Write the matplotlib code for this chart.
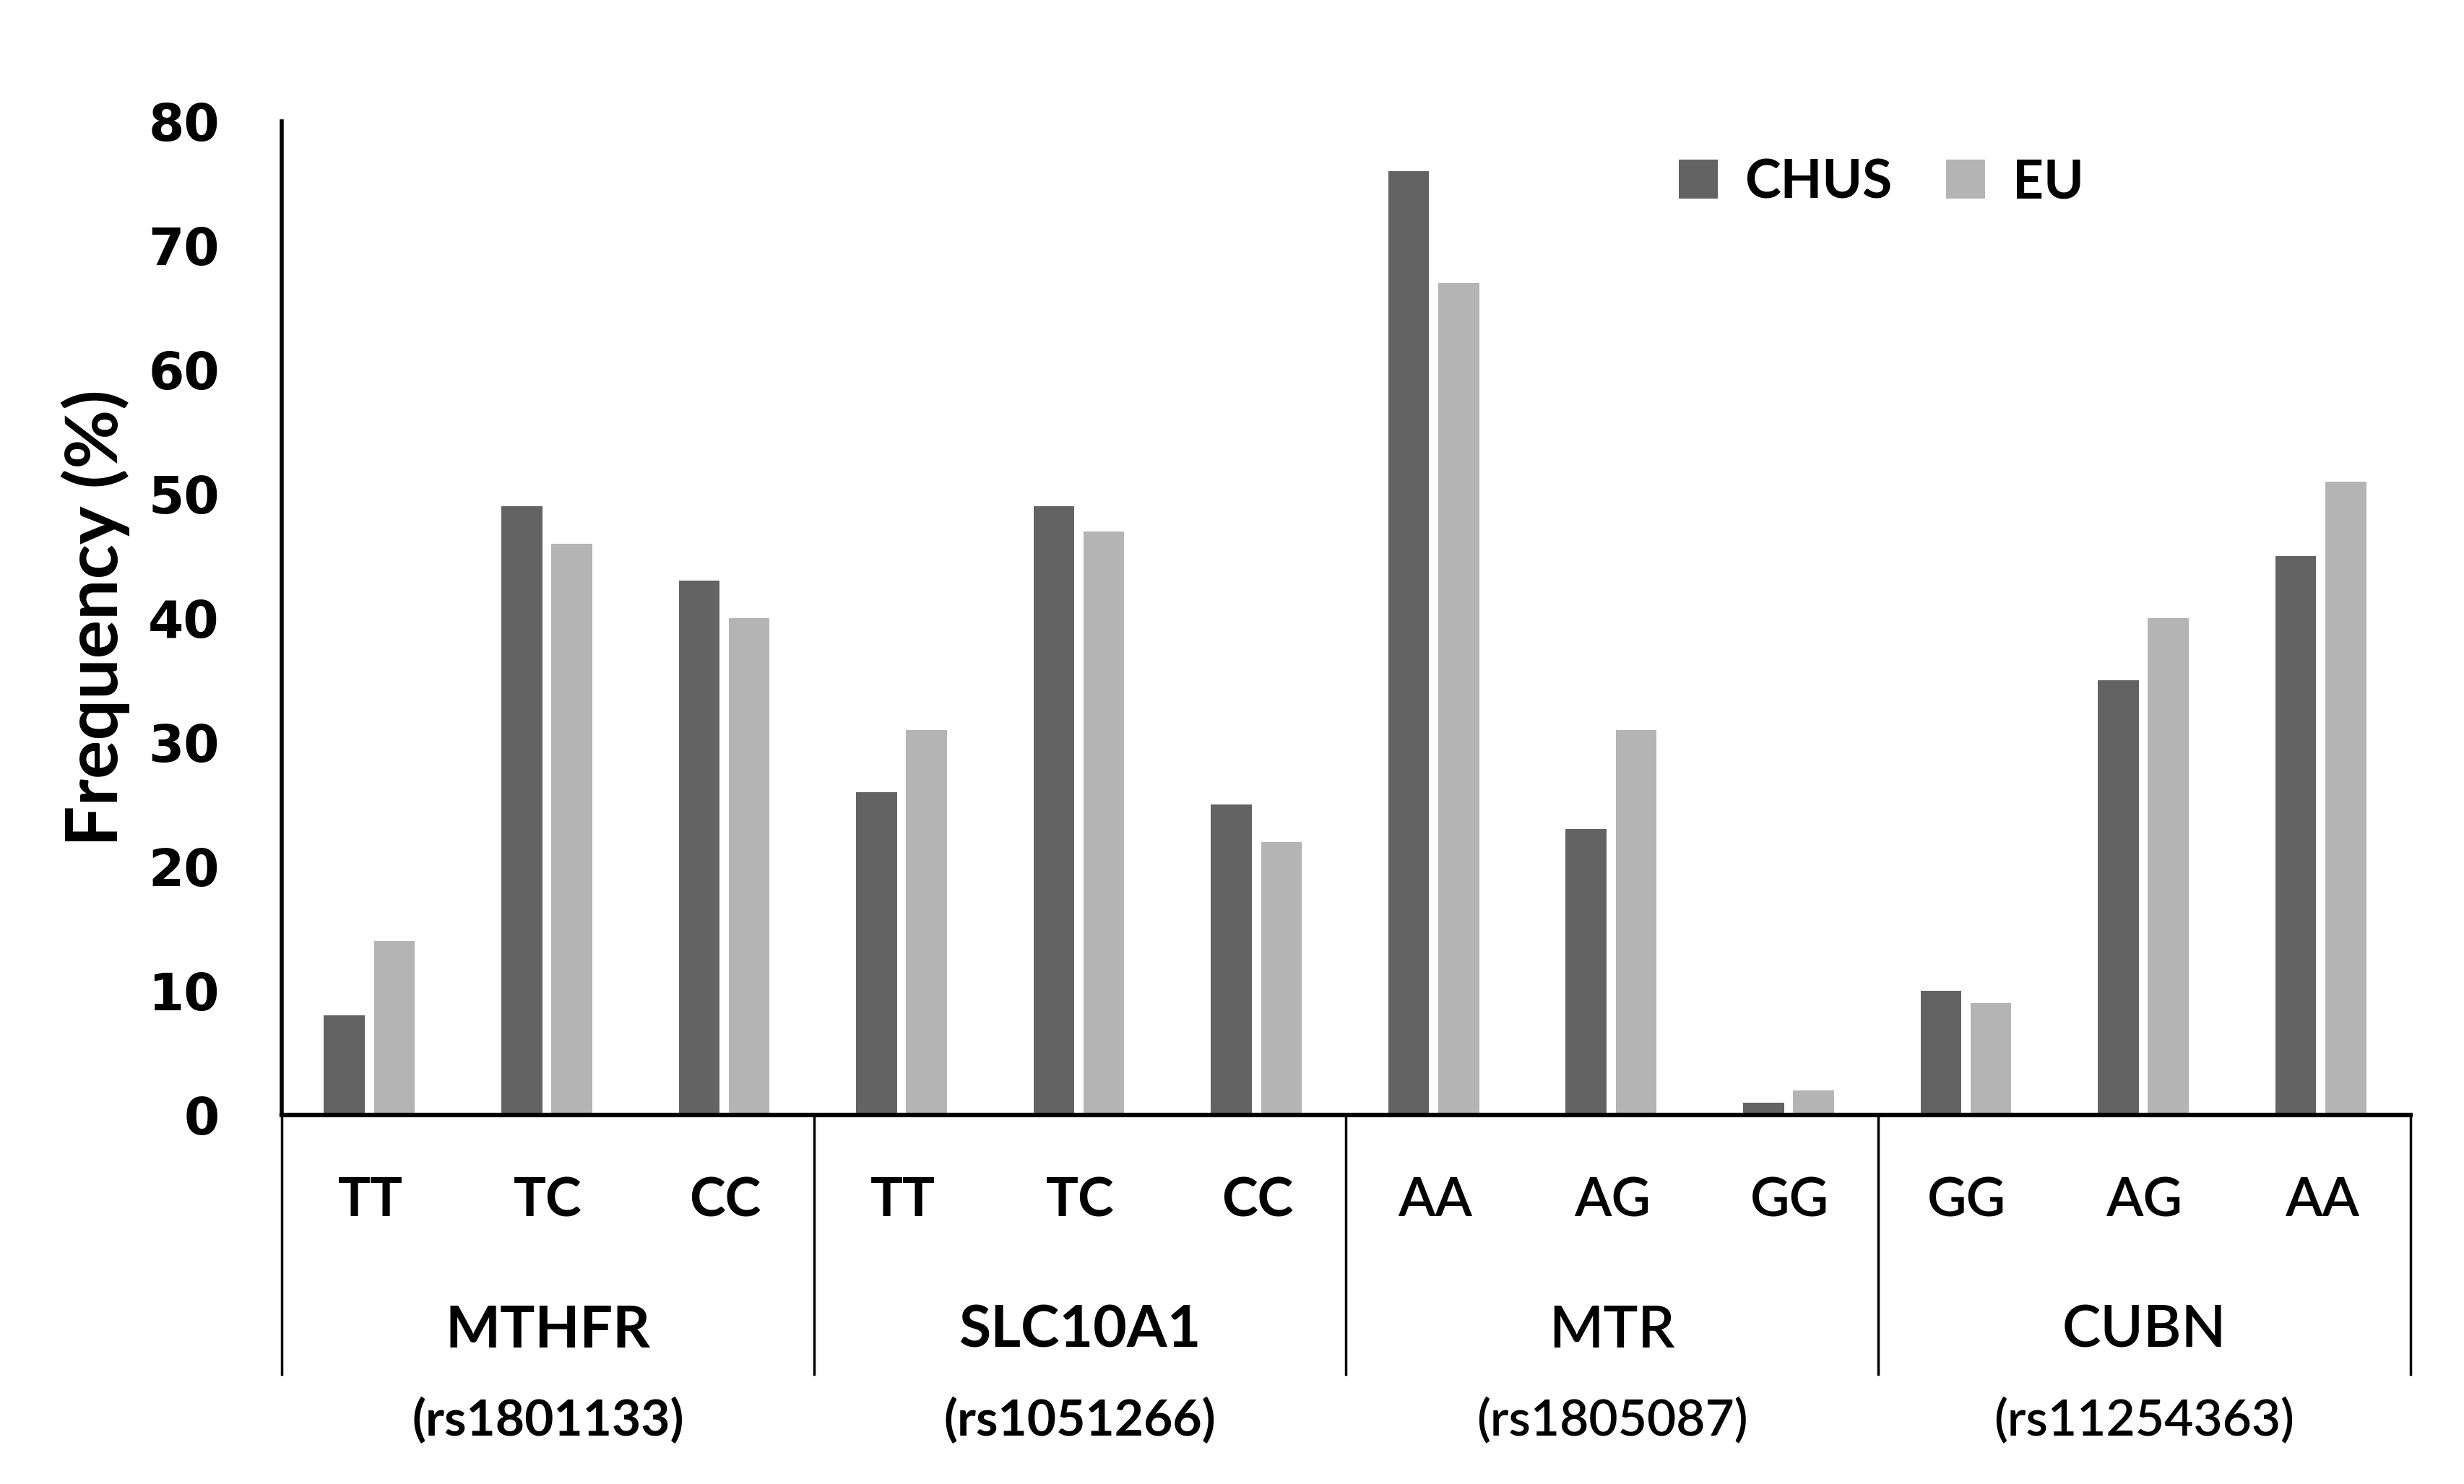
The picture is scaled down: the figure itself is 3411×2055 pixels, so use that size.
import matplotlib
matplotlib.use('Agg')
import matplotlib.pyplot as plt
import matplotlib.transforms as mtransforms
import numpy as np

# genotype frequencies (%)
genes = ['MTHFR', 'SLC10A1', 'MTR', 'CUBN']
snps = ['(rs1801133)', '(rs1051266)', '(rs1805087)', '(rs11254363)']
genotypes = ['TT', 'TC', 'CC', 'TT', 'TC', 'CC', 'AA', 'AG', 'GG', 'GG', 'AG', 'AA']
chus = [8, 49, 43, 26, 49, 25, 76, 23, 1, 10, 35, 45]
eu = [14, 46, 40, 31, 47, 22, 67, 31, 2, 9, 40, 51]

dark = '#636363'
light = '#b4b4b4'

fig = plt.figure(figsize=(34.12, 20.55), dpi=100)
ax = fig.add_axes([0.1143, 0.2487, 0.8637, 0.6695])

x = np.arange(len(genotypes))
w = 0.23
ax.bar(x - 0.147, chus, w, color=dark, label='CHUS')
ax.bar(x + 0.135, eu, w, color=light, label='EU')

ax.set_xlim(-0.5, len(genotypes) - 0.5)
ax.set_ylim(0, 80)
ax.set_yticks(range(0, 81, 10))
ax.set_xticks([])
for s in ['top', 'right']:
    ax.spines[s].set_visible(False)
ax.spines['left'].set_linewidth(4)
ax.spines['bottom'].set_linewidth(4.5)
ax.tick_params(axis='y', length=0, pad=62)
for lab in ax.get_yticklabels():
    lab.set_fontfamily('DejaVu Sans')
    lab.set_fontweight('bold')
    lab.set_fontsize(51)

ax.set_ylabel('Frequency (%)', fontsize=72, fontweight='bold', family='Lato')
ax.yaxis.set_label_coords(-0.0713, 0.5)

# category labels below the axis
trans = mtransforms.blended_transform_factory(ax.transData, fig.transFigure)
for i, g in enumerate(genotypes):
    wt = 'bold' if i < 6 else 'semibold'
    ax.text(i, 0.1908, g, transform=trans, ha='center', va='center',
            fontsize=54, fontweight=wt, family='Lato')

for k, (gene, snp) in enumerate(zip(genes, snps)):
    wt = 'bold' if k < 2 else 'semibold'
    xc = 3 * k + 1
    ax.text(xc, 0.1032, gene, transform=trans, ha='center', va='center',
            fontsize=58, fontweight=wt, family='Lato')
    ax.text(xc, 0.0428, snp, transform=trans, ha='center', va='center',
            fontsize=50, fontweight=wt, family='Lato')

# group dividers
for xd in [-0.5, 2.5, 5.5, 8.5, 11.5]:
    ax.plot([xd, xd], [0.2487, 0.074], transform=trans, color='black',
            lw=2.5, clip_on=False)

ax.legend(loc='center left', bbox_to_anchor=(0.681, 0.877),
          bbox_transform=fig.transFigure, ncol=2, frameon=False,
          prop={'family': 'Lato', 'weight': 'bold', 'size': 54},
          handlelength=0.72, handleheight=0.73, handletextpad=0.5,
          columnspacing=1.0, borderpad=0, borderaxespad=0)

fig.savefig('out.png', dpi=100)
